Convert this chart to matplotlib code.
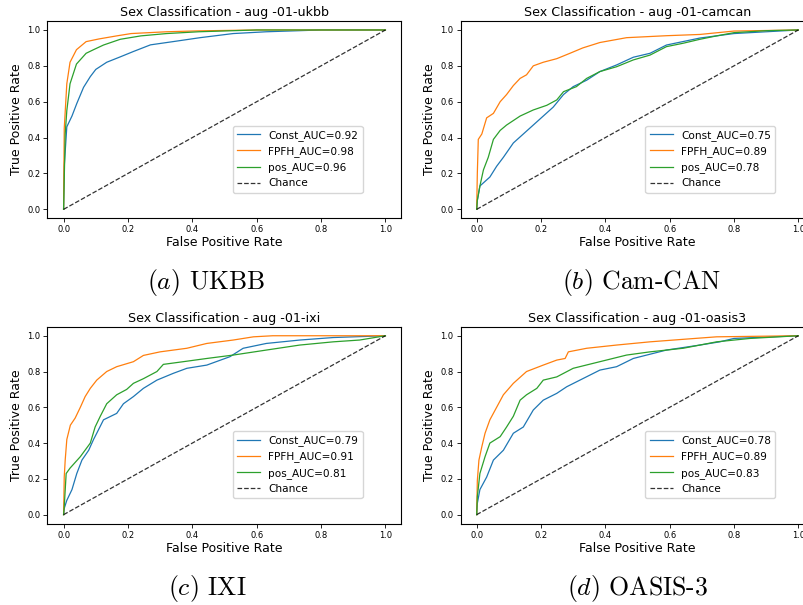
import matplotlib
matplotlib.use("Agg")
import matplotlib.pyplot as plt

# ROC points (fpr, tpr) per dataset and model
ukbb_const_fpr = [0, 0.002, 0.01, 0.026, 0.041, 0.062, 0.083, 0.10, 0.134, 0.176, 0.217, 0.27, 0.34, 0.424, 0.527, 0.63, 0.8, 1.0]
ukbb_const_tpr = [0, 0.24, 0.46, 0.52, 0.59, 0.68, 0.74, 0.78, 0.82, 0.85, 0.88, 0.917, 0.935, 0.957, 0.98, 0.99, 1.0, 1.0]
ukbb_fpfh_fpr = [0, 0.002, 0.01, 0.02, 0.04, 0.07, 0.11, 0.165, 0.21, 0.32, 0.42, 0.6, 1.0]
ukbb_fpfh_tpr = [0, 0.45, 0.70, 0.82, 0.89, 0.935, 0.95, 0.967, 0.98, 0.99, 0.995, 1.0, 1.0]
ukbb_pos_fpr = [0, 0.005, 0.01, 0.02, 0.04, 0.07, 0.093, 0.124, 0.176, 0.24, 0.32, 0.42, 0.6, 1.0]
ukbb_pos_tpr = [0, 0.42, 0.55, 0.70, 0.81, 0.87, 0.89, 0.916, 0.948, 0.967, 0.98, 0.99, 1.0, 1.0]

camcan_const_fpr = [0, 0.002, 0.01, 0.041, 0.062, 0.083, 0.114, 0.145, 0.176, 0.207, 0.238, 0.27, 0.30, 0.342, 0.383, 0.435, 0.487, 0.539, 0.59, 0.694, 0.80, 0.90, 1.0]
camcan_const_tpr = [0, 0.05, 0.13, 0.18, 0.24, 0.29, 0.37, 0.42, 0.47, 0.52, 0.57, 0.64, 0.684, 0.72, 0.768, 0.805, 0.848, 0.87, 0.916, 0.955, 0.98, 0.99, 1.0]
camcan_fpfh_fpr = [0, 0.002, 0.005, 0.016, 0.031, 0.052, 0.073, 0.093, 0.114, 0.135, 0.155, 0.176, 0.207, 0.249, 0.29, 0.33, 0.383, 0.466, 0.59, 0.694, 0.80, 1.0]
camcan_fpfh_tpr = [0, 0.2, 0.39, 0.42, 0.51, 0.535, 0.60, 0.64, 0.69, 0.73, 0.75, 0.80, 0.82, 0.84, 0.87, 0.90, 0.93, 0.957, 0.968, 0.975, 0.994, 1.0]
camcan_pos_fpr = [0, 0.002, 0.01, 0.021, 0.036, 0.052, 0.073, 0.093, 0.135, 0.176, 0.218, 0.249, 0.27, 0.31, 0.342, 0.383, 0.435, 0.487, 0.539, 0.59, 0.642, 0.694, 0.746, 0.80, 0.90, 1.0]
camcan_pos_tpr = [0, 0.05, 0.13, 0.22, 0.29, 0.39, 0.44, 0.47, 0.52, 0.554, 0.58, 0.61, 0.656, 0.684, 0.73, 0.768, 0.795, 0.833, 0.86, 0.907, 0.926, 0.948, 0.967, 0.985, 0.996, 1.0]

ixi_const_fpr = [0, 0.002, 0.01, 0.026, 0.041, 0.057, 0.078, 0.093, 0.103, 0.124, 0.165, 0.186, 0.217, 0.248, 0.29, 0.341, 0.383, 0.445, 0.517, 0.558, 0.63, 0.734, 0.838, 1.0]
ixi_const_tpr = [0, 0.035, 0.08, 0.14, 0.23, 0.305, 0.36, 0.42, 0.455, 0.53, 0.566, 0.62, 0.66, 0.706, 0.752, 0.79, 0.818, 0.836, 0.883, 0.93, 0.957, 0.976, 0.99, 1.0]
ixi_fpfh_fpr = [0, 0.002, 0.005, 0.01, 0.021, 0.036, 0.052, 0.067, 0.083, 0.103, 0.134, 0.165, 0.217, 0.248, 0.30, 0.383, 0.445, 0.527, 0.59, 0.65, 1.0]
ixi_fpfh_tpr = [0, 0.21, 0.305, 0.42, 0.50, 0.54, 0.60, 0.66, 0.706, 0.752, 0.80, 0.827, 0.855, 0.89, 0.91, 0.93, 0.957, 0.976, 0.994, 1.0, 1.0]
ixi_pos_fpr = [0, 0.002, 0.008, 0.02, 0.052, 0.083, 0.098, 0.114, 0.134, 0.165, 0.196, 0.217, 0.248, 0.29, 0.31, 0.372, 0.445, 0.527, 0.63, 0.734, 0.838, 0.92, 1.0]
ixi_pos_tpr = [0, 0.045, 0.23, 0.26, 0.324, 0.40, 0.49, 0.55, 0.62, 0.67, 0.70, 0.734, 0.76, 0.80, 0.84, 0.855, 0.873, 0.892, 0.92, 0.948, 0.966, 0.976, 1.0]

oasis_const_fpr = [0, 0.002, 0.01, 0.031, 0.052, 0.083, 0.114, 0.145, 0.176, 0.207, 0.249, 0.28, 0.321, 0.383, 0.435, 0.487, 0.59, 0.694, 0.756, 0.80, 1.0]
oasis_const_tpr = [0, 0.063, 0.14, 0.21, 0.305, 0.36, 0.455, 0.49, 0.585, 0.64, 0.678, 0.715, 0.752, 0.808, 0.827, 0.873, 0.92, 0.948, 0.966, 0.985, 1.0]
oasis_fpfh_fpr = [0, 0.002, 0.007, 0.016, 0.026, 0.041, 0.062, 0.083, 0.114, 0.155, 0.207, 0.249, 0.275, 0.285, 0.342, 0.435, 0.539, 0.642, 0.746, 1.0]
oasis_fpfh_tpr = [0, 0.19, 0.305, 0.38, 0.455, 0.53, 0.60, 0.67, 0.734, 0.80, 0.836, 0.864, 0.873, 0.91, 0.93, 0.948, 0.966, 0.98, 0.994, 1.0]
oasis_pos_fpr = [0, 0.002, 0.01, 0.026, 0.041, 0.073, 0.093, 0.114, 0.135, 0.155, 0.187, 0.207, 0.249, 0.30, 0.383, 0.466, 0.539, 0.642, 0.746, 0.85, 1.0]
oasis_pos_tpr = [0, 0.10, 0.23, 0.324, 0.40, 0.436, 0.49, 0.55, 0.64, 0.67, 0.706, 0.752, 0.77, 0.818, 0.855, 0.892, 0.91, 0.93, 0.966, 0.985, 1.0]

titles = ["Sex Classification - aug -01-ukbb", "Sex Classification - aug -01-camcan",
          "Sex Classification - aug -01-ixi", "Sex Classification - aug -01-oasis3"]
captions = [r"$(a)$ UKBB", r"$(b)$ Cam-CAN", r"$(c)$ IXI", r"$(d)$ OASIS-3"]
aucs = [(0.92, 0.98, 0.96), (0.75, 0.89, 0.78), (0.79, 0.91, 0.81), (0.78, 0.89, 0.83)]

curves = [
    [(ukbb_const_fpr, ukbb_const_tpr), (ukbb_fpfh_fpr, ukbb_fpfh_tpr), (ukbb_pos_fpr, ukbb_pos_tpr)],
    [(camcan_const_fpr, camcan_const_tpr), (camcan_fpfh_fpr, camcan_fpfh_tpr), (camcan_pos_fpr, camcan_pos_tpr)],
    [(ixi_const_fpr, ixi_const_tpr), (ixi_fpfh_fpr, ixi_fpfh_tpr), (ixi_pos_fpr, ixi_pos_tpr)],
    [(oasis_const_fpr, oasis_const_tpr), (oasis_fpfh_fpr, oasis_fpfh_tpr), (oasis_pos_fpr, oasis_pos_tpr)],
]
names = ["Const", "FPFH", "pos"]

W, H = 804, 605
fig = plt.figure(figsize=(W / 100, H / 100), dpi=100)

# axes boxes in pixels: left, top, right, bottom
boxes = [(47.5, 21, 401.5, 218.3), (460.6, 21, 814.4, 218.3),
         (47.5, 326.8, 401.5, 523.6), (460.6, 326.8, 814.4, 523.6)]
caption_pos = [(206, 283), (642, 283), (207, 588), (638, 588)]

for i in range(4):
    l, t, r, b = boxes[i]
    ax = fig.add_axes([l / W, 1 - b / H, (r - l) / W, (b - t) / H])
    for j in range(3):
        fpr, tpr = curves[i][j]
        ax.plot(fpr, tpr, color=f"C{j}", lw=0.9, label=f"{names[j]}_AUC={aucs[i][j]:.2f}")
    ax.plot([0, 1], [0, 1], "k--", lw=0.9, alpha=0.8, label="Chance")
    ax.set_title(titles[i], fontsize=9.1, pad=3.5)
    ax.set_xlabel("False Positive Rate", fontsize=9, labelpad=1.5)
    ax.set_ylabel("True Positive Rate", fontsize=9, labelpad=3)
    ax.tick_params(labelsize=6, length=3, width=0.6, pad=2)
    ax.set_xticks([0, 0.2, 0.4, 0.6, 0.8, 1.0])
    ax.set_yticks([0, 0.2, 0.4, 0.6, 0.8, 1.0])
    for s in ax.spines.values():
        s.set_linewidth(0.8)
    ax.legend(loc="lower right", bbox_to_anchor=(0.890, 0.130), borderaxespad=0,
              fontsize=7.6, handlelength=2.2, framealpha=0.8)
    cx, cy = caption_pos[i]
    fig.text(cx / W, 1 - cy / H, captions[i], family="cmr10", math_fontfamily="cm",
             fontsize=18.5, ha="center", va="center")

fig.savefig("out.png", dpi=100)
